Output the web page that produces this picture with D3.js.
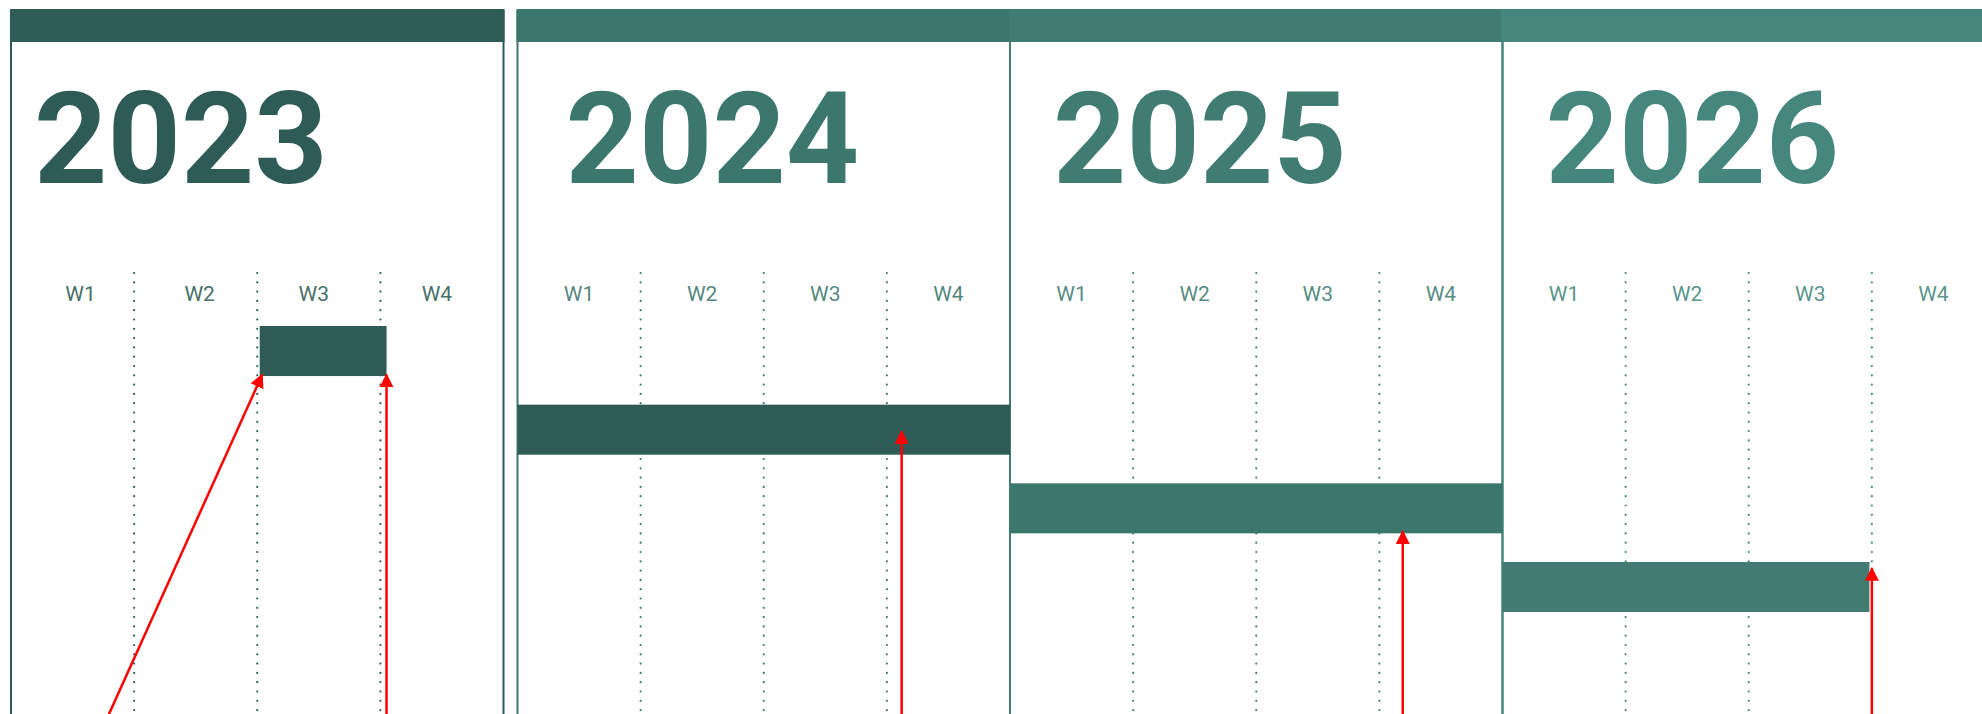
<!DOCTYPE html>
<html>
<head>
<meta charset="utf-8">
<script src="https://cdn.jsdelivr.net/npm/d3@7"></script>
<style>
  body { margin: 0; background: #fff; }
  text { font-family: Roboto, "Noto Sans", sans-serif; }
</style>
</head>
<body>
<svg width="1982" height="714"></svg>
<script>
// years / columns
const years = ['2023', '2024', '2025', '2026'];
const weeks = ['W1', 'W2', 'W3', 'W4'];
const yearColors = ['#2e5b55', '#3c776d', '#417c73', '#45877c'];

// tasks (one row each), start / end in weeks within their year
const tasks = ['A', 'B', 'C', 'D'];
const taskYear = ['2023', '2024', '2025', '2026'];
const taskStart = [2.02, 0, 0, 0];
const taskEnd = [3.05, 4, 4, 2.98];
const taskColors = ['#2e5b55', '#2e5b55', '#3c776d', '#417b72'];

// red arrows: tail and tip as (year, week, row)
const arrowFromYear = ['2023', '2023', '2024', '2025', '2026'];
const arrowFromWeek = [0.69, 3.05, 3.12, 3.19, 3.0];
const arrowFromRow = [5.3, 5.3, 5.3, 5.3, 5.3];
const arrowToYear = ['2023', '2023', '2024', '2025', '2026'];
const arrowToWeek = [2.04, 3.05, 3.12, 3.19, 3.0];
const arrowToRow = [0.62, 0.62, 1.34, 2.61, 3.08];

const svg = d3.select('svg');
const width = +svg.attr('width');
const height = +svg.attr('height');

const panelW = 492.5;
const gap = 14;
const bandTop = 10, bandH = 32;
const yearPad = [23, 48, 43, 43];
// week label nudges in the first panel (labels sit a bit tighter there)
const weekNudge = [[8, 4, -5, -5], [0, 0, 0, 0], [0, 0, 0, 0], [0, 0, 0, 0]];

const panelIndex = d3.scaleOrdinal().domain(years).range(d3.range(years.length));
const panelStep = d3.scaleLinear().domain([0, 1]).range([11, 11 + panelW]);
const panelX = y => {
  const i = panelIndex(y);
  return panelStep(i) + (i > 0 ? gap : 0);
};
const weekBand = d3.scaleBand().domain(weeks).range([0, panelW]);
const weekX = d3.scaleLinear().domain([0, weeks.length]).range([0, panelW]);

const yBand = d3.scaleBand().domain(tasks).range([326, 612]).paddingInner(0.364);
const yRow = d3.scaleLinear().domain([0, 1]).range([326, 326 + yBand.step()]);

const defs = svg.append('defs');
defs.append('marker')
  .attr('id', 'arrow')
  .attr('viewBox', '0 0 10 10')
  .attr('refX', 9)
  .attr('refY', 5)
  .attr('markerUnits', 'userSpaceOnUse')
  .attr('markerWidth', 14)
  .attr('markerHeight', 15)
  .attr('orient', 'auto')
  .append('path')
  .attr('d', 'M0,0 L10,5 L0,10 Z')
  .attr('fill', '#ff0000');

// panels
const panels = svg.selectAll('g.panel').data(years)
  .enter().append('g')
  .attr('class', 'panel')
  .attr('transform', d => `translate(${panelX(d)}, 0)`);

panels.append('rect')
  .attr('x', 0)
  .attr('y', bandTop)
  .attr('width', panelW)
  .attr('height', height + 50)
  .attr('fill', 'none')
  .attr('stroke', (d, i) => yearColors[i])
  .attr('stroke-width', 2);

panels.selectAll('line.grid').data(weeks.slice(1))
  .enter().append('line')
  .attr('class', 'grid')
  .attr('x1', (d, j) => weekX(j + 1))
  .attr('x2', (d, j) => weekX(j + 1))
  .attr('y1', 273)
  .attr('y2', height)
  .attr('stroke', function() { return yearColors[panelIndex(d3.select(this.parentNode).datum())]; })
  .attr('stroke-width', 2.2)
  .attr('stroke-linecap', 'round')
  .attr('stroke-dasharray', '0 9.3');

panels.append('rect')
  .attr('x', -1)
  .attr('y', bandTop)
  .attr('width', panelW + 2)
  .attr('height', bandH)
  .attr('fill', (d, i) => yearColors[i]);

panels.append('text')
  .attr('x', (d, i) => yearPad[i])
  .attr('y', 183)
  .attr('font-size', 128)
  .attr('font-weight', 700)
  .attr('fill', (d, i) => yearColors[i])
  .text(d => d);

panels.selectAll('text.week').data(weeks)
  .enter().append('text')
  .attr('class', 'week')
  .attr('x', function(d, j) {
    const p = panelIndex(d3.select(this.parentNode).datum());
    return weekBand(d) + weekBand.bandwidth() / 2 + weekNudge[p][j];
  })
  .attr('y', 301)
  .attr('text-anchor', 'middle')
  .attr('font-size', 21)
  .attr('fill', function() { return yearColors[panelIndex(d3.select(this.parentNode).datum())]; })
  .attr('fill-opacity', 0.9)
  .text(d => d);

// task bars
svg.selectAll('rect.bar').data(tasks)
  .enter().append('rect')
  .attr('class', 'bar')
  .attr('x', (d, i) => panelX(taskYear[i]) + weekX(taskStart[i]))
  .attr('y', d => yBand(d))
  .attr('width', (d, i) => weekX(taskEnd[i]) - weekX(taskStart[i]))
  .attr('height', yBand.bandwidth())
  .attr('fill', (d, i) => taskColors[i]);

// arrows
svg.selectAll('line.arrow').data(arrowFromYear)
  .enter().append('line')
  .attr('class', 'arrow')
  .attr('x1', (d, i) => panelX(arrowFromYear[i]) + weekX(arrowFromWeek[i]))
  .attr('y1', (d, i) => yRow(arrowFromRow[i]))
  .attr('x2', (d, i) => panelX(arrowToYear[i]) + weekX(arrowToWeek[i]))
  .attr('y2', (d, i) => yRow(arrowToRow[i]))
  .attr('stroke', '#ff0000')
  .attr('stroke-width', 2.5)
  .attr('marker-end', 'url(#arrow)');
</script>
</body>
</html>
